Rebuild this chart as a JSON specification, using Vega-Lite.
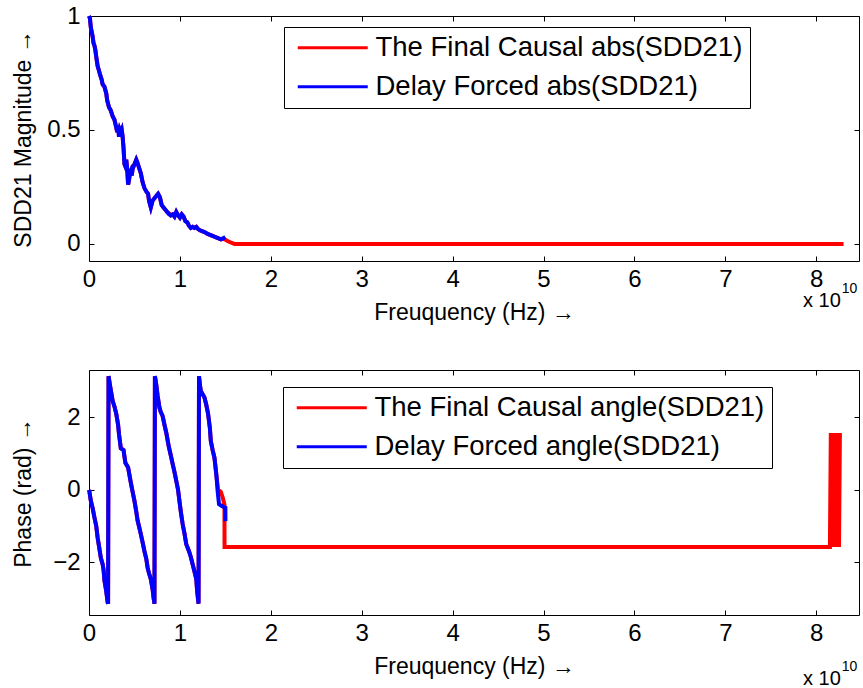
{
  "$schema": "https://vega.github.io/schema/vega-lite/v6.json",
  "padding": {"left": 11, "top": 3, "right": 0, "bottom": 0},
  "spacing": 109,
  "bounds": "flush",
  "datasets": {
    "magRed": [
      {"f":0.0,"m":1.0},{"f":0.01,"m":0.99},{"f":0.02,"m":0.95},{"f":0.03,"m":0.93},{"f":0.04,"m":0.91},{"f":0.05,"m":0.88},{"f":0.06,"m":0.87},{"f":0.07,"m":0.85},{"f":0.08,"m":0.82},{"f":0.095,"m":0.78},{"f":0.11,"m":0.76},{"f":0.12,"m":0.745},{"f":0.14,"m":0.72},{"f":0.15,"m":0.7},{"f":0.17,"m":0.69},{"f":0.19,"m":0.66},{"f":0.2,"m":0.63},{"f":0.22,"m":0.6},{"f":0.24,"m":0.585},{"f":0.26,"m":0.56},{"f":0.28,"m":0.545},{"f":0.3,"m":0.51},{"f":0.31,"m":0.49},{"f":0.32,"m":0.52},{"f":0.33,"m":0.47},{"f":0.34,"m":0.5},{"f":0.35,"m":0.49},{"f":0.36,"m":0.5},{"f":0.37,"m":0.47},{"f":0.38,"m":0.42},{"f":0.39,"m":0.35},{"f":0.4,"m":0.34},{"f":0.41,"m":0.37},{"f":0.42,"m":0.33},{"f":0.43,"m":0.26},{"f":0.44,"m":0.28},{"f":0.45,"m":0.31},{"f":0.46,"m":0.32},{"f":0.47,"m":0.3},{"f":0.48,"m":0.33},{"f":0.5,"m":0.35},{"f":0.52,"m":0.37},{"f":0.53,"m":0.36},{"f":0.55,"m":0.335},{"f":0.57,"m":0.31},{"f":0.59,"m":0.27},{"f":0.61,"m":0.245},{"f":0.63,"m":0.23},{"f":0.65,"m":0.22},{"f":0.66,"m":0.19},{"f":0.67,"m":0.175},{"f":0.68,"m":0.16},{"f":0.7,"m":0.19},{"f":0.72,"m":0.2},{"f":0.74,"m":0.21},{"f":0.76,"m":0.22},{"f":0.78,"m":0.205},{"f":0.8,"m":0.17},{"f":0.82,"m":0.16},{"f":0.84,"m":0.15},{"f":0.86,"m":0.14},{"f":0.88,"m":0.135},{"f":0.9,"m":0.125},{"f":0.92,"m":0.13},{"f":0.94,"m":0.12},{"f":0.96,"m":0.14},{"f":0.98,"m":0.125},{"f":1.0,"m":0.115},{"f":1.02,"m":0.13},{"f":1.04,"m":0.12},{"f":1.06,"m":0.1},{"f":1.08,"m":0.095},{"f":1.1,"m":0.08},{"f":1.12,"m":0.07},{"f":1.14,"m":0.075},{"f":1.16,"m":0.07},{"f":1.18,"m":0.075},{"f":1.2,"m":0.065},{"f":1.22,"m":0.06},{"f":1.25,"m":0.055},{"f":1.28,"m":0.05},{"f":1.3,"m":0.045},{"f":1.33,"m":0.04},{"f":1.36,"m":0.035},{"f":1.39,"m":0.03},{"f":1.42,"m":0.025},{"f":1.45,"m":0.02},{"f":1.48,"m":0.022},{"f":1.5,"m":0.018},{"f":1.53,"m":0.012},{"f":1.56,"m":0.006},{"f":1.6,"m":0.0},{"f":8.3,"m":0.0}
    ],
    "magBlue": [
      {"f":0.0,"m":1.0},{"f":0.01,"m":0.99},{"f":0.02,"m":0.95},{"f":0.03,"m":0.93},{"f":0.04,"m":0.91},{"f":0.05,"m":0.88},{"f":0.06,"m":0.87},{"f":0.07,"m":0.85},{"f":0.08,"m":0.82},{"f":0.095,"m":0.78},{"f":0.11,"m":0.76},{"f":0.12,"m":0.745},{"f":0.14,"m":0.72},{"f":0.15,"m":0.7},{"f":0.17,"m":0.69},{"f":0.19,"m":0.66},{"f":0.2,"m":0.63},{"f":0.22,"m":0.6},{"f":0.24,"m":0.585},{"f":0.26,"m":0.56},{"f":0.28,"m":0.545},{"f":0.3,"m":0.51},{"f":0.31,"m":0.49},{"f":0.32,"m":0.52},{"f":0.33,"m":0.47},{"f":0.34,"m":0.5},{"f":0.35,"m":0.49},{"f":0.36,"m":0.5},{"f":0.37,"m":0.47},{"f":0.38,"m":0.42},{"f":0.39,"m":0.35},{"f":0.4,"m":0.34},{"f":0.41,"m":0.37},{"f":0.42,"m":0.33},{"f":0.43,"m":0.26},{"f":0.44,"m":0.28},{"f":0.45,"m":0.31},{"f":0.46,"m":0.32},{"f":0.47,"m":0.3},{"f":0.48,"m":0.33},{"f":0.5,"m":0.35},{"f":0.52,"m":0.37},{"f":0.53,"m":0.36},{"f":0.55,"m":0.335},{"f":0.57,"m":0.31},{"f":0.59,"m":0.27},{"f":0.61,"m":0.245},{"f":0.63,"m":0.23},{"f":0.65,"m":0.22},{"f":0.66,"m":0.19},{"f":0.67,"m":0.175},{"f":0.68,"m":0.16},{"f":0.7,"m":0.19},{"f":0.72,"m":0.2},{"f":0.74,"m":0.21},{"f":0.76,"m":0.22},{"f":0.78,"m":0.205},{"f":0.8,"m":0.17},{"f":0.82,"m":0.16},{"f":0.84,"m":0.15},{"f":0.86,"m":0.14},{"f":0.88,"m":0.13},{"f":0.9,"m":0.125},{"f":0.92,"m":0.13},{"f":0.94,"m":0.12},{"f":0.96,"m":0.14},{"f":0.98,"m":0.125},{"f":1.0,"m":0.115},{"f":1.02,"m":0.13},{"f":1.04,"m":0.12},{"f":1.06,"m":0.1},{"f":1.08,"m":0.095},{"f":1.1,"m":0.08},{"f":1.12,"m":0.07},{"f":1.14,"m":0.075},{"f":1.16,"m":0.07},{"f":1.18,"m":0.075},{"f":1.2,"m":0.065},{"f":1.22,"m":0.06},{"f":1.25,"m":0.055},{"f":1.28,"m":0.05},{"f":1.3,"m":0.045},{"f":1.33,"m":0.04},{"f":1.36,"m":0.035},{"f":1.39,"m":0.03},{"f":1.42,"m":0.025},{"f":1.45,"m":0.02},{"f":1.48,"m":0.025},{"f":1.5,"m":0.03}
    ],
    "phRed": [
      {"f":0.0,"p":0.0},{"f":0.005,"p":-0.05},{"f":0.02,"p":-0.3},{"f":0.04,"p":-0.5},{"f":0.06,"p":-0.76},{"f":0.08,"p":-1.0},{"f":0.095,"p":-1.32},{"f":0.11,"p":-1.55},{"f":0.13,"p":-1.87},{"f":0.15,"p":-2.05},{"f":0.16,"p":-2.2},{"f":0.17,"p":-2.5},{"f":0.19,"p":-2.8},{"f":0.205,"p":-3.1},{"f":0.21,"p":-3.14},{"f":0.215,"p":3.14},{"f":0.23,"p":2.9},{"f":0.26,"p":2.46},{"f":0.28,"p":2.3},{"f":0.3,"p":2.1},{"f":0.32,"p":1.8},{"f":0.33,"p":1.54},{"f":0.35,"p":1.15},{"f":0.38,"p":1.1},{"f":0.4,"p":0.75},{"f":0.43,"p":0.62},{"f":0.46,"p":0.2},{"f":0.48,"p":-0.05},{"f":0.5,"p":-0.3},{"f":0.52,"p":-0.6},{"f":0.535,"p":-0.85},{"f":0.55,"p":-1.0},{"f":0.57,"p":-1.22},{"f":0.59,"p":-1.45},{"f":0.61,"p":-1.69},{"f":0.63,"p":-1.9},{"f":0.645,"p":-2.15},{"f":0.66,"p":-2.3},{"f":0.68,"p":-2.46},{"f":0.7,"p":-2.75},{"f":0.71,"p":-2.97},{"f":0.72,"p":-3.14},{"f":0.725,"p":3.14},{"f":0.74,"p":2.9},{"f":0.755,"p":2.6},{"f":0.775,"p":2.27},{"f":0.79,"p":2.15},{"f":0.81,"p":2.04},{"f":0.83,"p":1.8},{"f":0.85,"p":1.58},{"f":0.87,"p":1.3},{"f":0.88,"p":1.17},{"f":0.9,"p":0.95},{"f":0.92,"p":0.72},{"f":0.94,"p":0.5},{"f":0.96,"p":0.25},{"f":0.98,"p":0.0},{"f":0.99,"p":-0.21},{"f":1.01,"p":-0.6},{"f":1.03,"p":-0.94},{"f":1.05,"p":-1.2},{"f":1.07,"p":-1.5},{"f":1.1,"p":-1.69},{"f":1.12,"p":-1.85},{"f":1.14,"p":-2.05},{"f":1.16,"p":-2.25},{"f":1.18,"p":-2.46},{"f":1.19,"p":-2.8},{"f":1.205,"p":-3.14},{"f":1.21,"p":3.14},{"f":1.22,"p":2.9},{"f":1.23,"p":2.73},{"f":1.27,"p":2.55},{"f":1.29,"p":2.35},{"f":1.31,"p":2.1},{"f":1.33,"p":1.7},{"f":1.34,"p":1.35},{"f":1.36,"p":1.1},{"f":1.38,"p":0.89},{"f":1.4,"p":0.44},{"f":1.42,"p":0.0},{"f":1.45,"p":-0.05},{"f":1.47,"p":-0.2},{"f":1.49,"p":-0.4},{"f":1.491,"p":-1.5708},{"f":8.15,"p":-1.5708},{"f":8.16,"p":1.5708},{"f":8.17,"p":-1.5708},{"f":8.18,"p":1.5708},{"f":8.19,"p":-1.5708},{"f":8.2,"p":1.5708},{"f":8.21,"p":-1.5708},{"f":8.22,"p":1.5708},{"f":8.23,"p":-1.5708},{"f":8.24,"p":1.5708},{"f":8.25,"p":-1.5708},{"f":8.26,"p":1.5708}
    ],
    "phBlue": [
      {"f":0.0,"p":0.0},{"f":0.005,"p":-0.05},{"f":0.02,"p":-0.3},{"f":0.04,"p":-0.5},{"f":0.06,"p":-0.76},{"f":0.08,"p":-1.0},{"f":0.095,"p":-1.32},{"f":0.11,"p":-1.55},{"f":0.13,"p":-1.87},{"f":0.15,"p":-2.05},{"f":0.16,"p":-2.2},{"f":0.17,"p":-2.5},{"f":0.19,"p":-2.8},{"f":0.205,"p":-3.1},{"f":0.21,"p":-3.14},{"f":0.215,"p":3.14},{"f":0.23,"p":2.9},{"f":0.26,"p":2.46},{"f":0.28,"p":2.3},{"f":0.3,"p":2.1},{"f":0.32,"p":1.8},{"f":0.33,"p":1.54},{"f":0.35,"p":1.15},{"f":0.38,"p":1.1},{"f":0.4,"p":0.75},{"f":0.43,"p":0.62},{"f":0.46,"p":0.2},{"f":0.48,"p":-0.05},{"f":0.5,"p":-0.3},{"f":0.52,"p":-0.6},{"f":0.535,"p":-0.85},{"f":0.55,"p":-1.0},{"f":0.57,"p":-1.22},{"f":0.59,"p":-1.45},{"f":0.61,"p":-1.69},{"f":0.63,"p":-1.9},{"f":0.645,"p":-2.15},{"f":0.66,"p":-2.3},{"f":0.68,"p":-2.46},{"f":0.7,"p":-2.75},{"f":0.71,"p":-2.97},{"f":0.72,"p":-3.14},{"f":0.725,"p":3.14},{"f":0.74,"p":2.9},{"f":0.755,"p":2.6},{"f":0.775,"p":2.27},{"f":0.79,"p":2.15},{"f":0.81,"p":2.04},{"f":0.83,"p":1.8},{"f":0.85,"p":1.58},{"f":0.87,"p":1.3},{"f":0.88,"p":1.17},{"f":0.9,"p":0.95},{"f":0.92,"p":0.72},{"f":0.94,"p":0.5},{"f":0.96,"p":0.25},{"f":0.98,"p":0.0},{"f":0.99,"p":-0.21},{"f":1.01,"p":-0.6},{"f":1.03,"p":-0.94},{"f":1.05,"p":-1.2},{"f":1.07,"p":-1.5},{"f":1.1,"p":-1.69},{"f":1.12,"p":-1.85},{"f":1.14,"p":-2.05},{"f":1.16,"p":-2.25},{"f":1.18,"p":-2.46},{"f":1.19,"p":-2.8},{"f":1.205,"p":-3.14},{"f":1.21,"p":3.14},{"f":1.22,"p":2.9},{"f":1.23,"p":2.73},{"f":1.27,"p":2.55},{"f":1.29,"p":2.35},{"f":1.31,"p":2.1},{"f":1.33,"p":1.7},{"f":1.34,"p":1.35},{"f":1.36,"p":1.1},{"f":1.38,"p":0.89},{"f":1.4,"p":0.44},{"f":1.415,"p":-0.03},{"f":1.43,"p":-0.39},{"f":1.46,"p":-0.44},{"f":1.5,"p":-0.49},{"f":1.501,"p":-0.86}
    ]
  },
  "vconcat": [
    {
      "width": 770,
      "height": 245,
      "layer": [
        {
          "data": {"name": "magRed"},
          "mark": {"type": "line", "strokeWidth": 4},
          "encoding": {
            "x": {"field": "f", "type": "quantitative", "scale": {"domain": [0, 8.47], "nice": false, "zero": false},
                  "axis": {"orient": "bottom", "values": [0,1,2,3,4,5,6,7,8], "format": "d", "title": "Freuquency (Hz) →", "titleY": 51, "titleBaseline": "middle"}},
            "y": {"field": "m", "type": "quantitative", "scale": {"domain": [-0.075, 1], "nice": false, "zero": false},
                  "axis": {"orient": "left", "values": [0, 0.5, 1], "labelExpr": "datum.value == 0.5 ? '0.5' : format(datum.value, 'd')", "title": "SDD21 Magnitude →", "titleX": -66, "titleBaseline": "middle"}},
            "color": {"datum": "The Final Causal abs(SDD21)",
                      "scale": {"domain": ["The Final Causal abs(SDD21)", "Delay Forced abs(SDD21)"], "range": ["#ff0000", "#0000ff"]},
                      "legend": {"orient": "none", "legendX": 195, "legendY": 11, "title": null}}
          }
        },
        {
          "data": {"name": "magBlue"},
          "mark": {"type": "line", "strokeWidth": 4},
          "encoding": {
            "x": {"field": "f", "type": "quantitative", "axis": {"orient": "top", "values": [0,1,2,3,4,5,6,7,8], "labels": false, "title": null}},
            "y": {"field": "m", "type": "quantitative", "axis": {"orient": "right", "values": [0, 0.5, 1], "labels": false, "title": null}},
            "color": {"datum": "Delay Forced abs(SDD21)"}
          }
        },
        {
          "data": {"values": [{}]},
          "mark": {"type": "text", "text": "x 10", "align": "right", "baseline": "middle", "fontSize": 20, "dy": 40},
          "encoding": {
            "x": {"datum": 8.27, "type": "quantitative", "axis": null},
            "y": {"datum": -0.075, "type": "quantitative", "axis": null}
          }
        },
        {
          "data": {"values": [{}]},
          "mark": {"type": "text", "text": "10", "align": "left", "baseline": "middle", "fontSize": 14, "dy": 28, "dx": 1},
          "encoding": {
            "x": {"datum": 8.27, "type": "quantitative", "axis": null},
            "y": {"datum": -0.075, "type": "quantitative", "axis": null}
          }
        }
      ],
      "resolve": {"axis": {"x": "independent", "y": "independent"}}
    },
    {
      "width": 770,
      "height": 245,
      "layer": [
        {
          "data": {"name": "phRed"},
          "mark": {"type": "line", "strokeWidth": 4},
          "encoding": {
            "x": {"field": "f", "type": "quantitative", "scale": {"domain": [0, 8.47], "nice": false, "zero": false},
                  "axis": {"orient": "bottom", "values": [0,1,2,3,4,5,6,7,8], "format": "d", "title": "Freuquency (Hz) →", "titleY": 51, "titleBaseline": "middle"}},
            "y": {"field": "p", "type": "quantitative", "scale": {"domain": [-3.45, 3.31], "nice": false, "zero": false},
                  "axis": {"orient": "left", "values": [-2, 0, 2], "format": "d", "title": "Phase (rad) →", "titleX": -66, "titleBaseline": "middle"}},
            "color": {"datum": "The Final Causal angle(SDD21)",
                      "scale": {"domain": ["The Final Causal angle(SDD21)", "Delay Forced angle(SDD21)"], "range": ["#ff0000", "#0000ff"]},
                      "legend": {"orient": "none", "legendX": 194, "legendY": 17, "title": null}}
          }
        },
        {
          "data": {"name": "phBlue"},
          "mark": {"type": "line", "strokeWidth": 4},
          "encoding": {
            "x": {"field": "f", "type": "quantitative", "axis": {"orient": "top", "values": [0,1,2,3,4,5,6,7,8], "labels": false, "title": null}},
            "y": {"field": "p", "type": "quantitative", "axis": {"orient": "right", "values": [-2, 0, 2], "labels": false, "title": null}},
            "color": {"datum": "Delay Forced angle(SDD21)"}
          }
        },
        {
          "data": {"values": [{}]},
          "mark": {"type": "text", "text": "x 10", "align": "right", "baseline": "middle", "fontSize": 20, "dy": 64},
          "encoding": {
            "x": {"datum": 8.27, "type": "quantitative", "axis": null},
            "y": {"datum": -3.45, "type": "quantitative", "axis": null}
          }
        },
        {
          "data": {"values": [{}]},
          "mark": {"type": "text", "text": "10", "align": "left", "baseline": "middle", "fontSize": 14, "dy": 52, "dx": 1},
          "encoding": {
            "x": {"datum": 8.27, "type": "quantitative", "axis": null},
            "y": {"datum": -3.45, "type": "quantitative", "axis": null}
          }
        }
      ],
      "resolve": {"axis": {"x": "independent", "y": "independent"}}
    }
  ],
  "resolve": {"scale": {"color": "independent", "x": "independent", "y": "independent"}, "legend": {"color": "independent"}},
  "config": {
    "font": "Liberation Sans",
    "background": "white",
    "view": {"stroke": "black", "strokeWidth": 1},
    "text": {"font": "Liberation Sans", "color": "black"},
    "axis": {
      "domain": false, "grid": false, "labelFlush": false,
      "tickColor": "black", "tickSize": -5, "tickWidth": 1,
      "labelFont": "Liberation Sans", "labelFontSize": 24, "labelColor": "black", "labelPadding": 11,
      "titleFont": "Liberation Sans", "titleFontSize": 23, "titleColor": "black", "titleFontWeight": "normal"
    },
    "axisY": {"labelPadding": 14},
    "legend": {
      "symbolType": "M-1,0H9", "symbolStrokeWidth": 3, "symbolSize": 196,
      "labelFont": "Liberation Sans", "labelFontSize": 27.5, "labelColor": "black", "labelLimit": 800,
      "fillColor": "white", "strokeColor": "black", "padding": 7, "rowPadding": 10, "labelOffset": 57
    }
  }
}
